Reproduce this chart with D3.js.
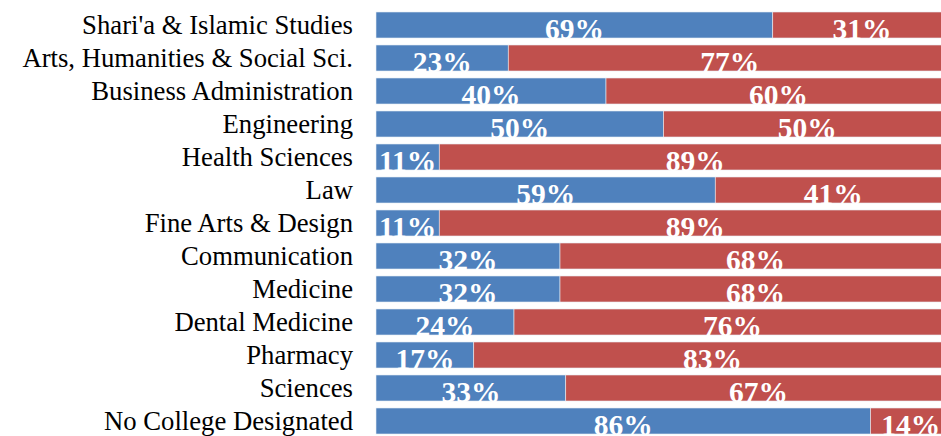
<!DOCTYPE html>
<html>
<head>
<meta charset="utf-8">
<script src="https://cdn.jsdelivr.net/npm/d3@7"></script>
<style>
  body { margin: 0; background: #fff; overflow: hidden; }
</style>
</head>
<body>
<div id="chart"></div>
<script>
// categories and shares (first series = blue, second = red)
var colleges = ["Shari'a & Islamic Studies", "Arts, Humanities & Social Sci.", "Business Administration",
    "Engineering", "Health Sciences", "Law", "Fine Arts & Design", "Communication", "Medicine",
    "Dental Medicine", "Pharmacy", "Sciences", "No College Designated"];
var seriesA = [69, 23, 40, 50, 11, 59, 11, 32, 32, 24, 17, 33, 86];
var seriesB = [31, 77, 60, 50, 89, 41, 89, 68, 68, 76, 83, 67, 14];

var width = 941, height = 436;

var svg = d3.select("#chart")
    .append("svg")
    .attr("width", width)
    .attr("height", height);

var rows = colleges.map(function (c, i) {
    return { college: c, a: seriesA[i], b: seriesB[i] };
});

var stack = d3.stack().keys(["a", "b"]);
var layers = stack(rows);

// x scale in percent, bars run past the right edge of the picture
var x = d3.scaleLinear()
    .domain([0, 100])
    .range([376, 951]);

var y = d3.scaleBand()
    .domain(colleges)
    .range([8.5, 437.5])
    .paddingInner(0.212)
    .paddingOuter(0.106);

var colors = { a: "#4F81BD", b: "#C0504D" };

var layer = svg.selectAll("g.layer")
    .data(layers)
    .enter()
    .append("g")
    .attr("class", "layer")
    .attr("fill", function (d) { return colors[d.key]; });

layer.selectAll("rect")
    .data(function (d) { return d; })
    .enter()
    .append("rect")
    .attr("x", function (d) { return x(d[0]); })
    .attr("y", function (d) { return y(d.data.college); })
    .attr("width", function (d) { return x(d[1]) - x(d[0]); })
    .attr("height", y.bandwidth())
    .style("stroke", "#e8eef6")
    .style("stroke-width", 0.6);

// value labels, sitting low in each bar
layer.selectAll("text")
    .data(function (d) { return d; })
    .enter()
    .append("text")
    .text(function (d) { return (d[1] - d[0]) + "%"; })
    .attr("x", function (d) { return (x(d[0]) + x(d[1])) / 2; })
    .attr("y", function (d) { return y(d.data.college) + y.bandwidth() + 0.5; })
    .attr("text-anchor", "middle")
    .attr("font-family", "'Liberation Serif', 'Times New Roman', serif")
    .attr("font-weight", "bold")
    .attr("font-size", "29.5px")
    .attr("fill", "white");

// category axis
var axis = svg.append("g")
    .attr("transform", "translate(376,0)")
    .call(d3.axisLeft(y).tickSize(0).tickPadding(23));
axis.select(".domain").remove();
axis.selectAll("text")
    .attr("font-family", "'Liberation Serif', 'Times New Roman', serif")
    .attr("font-size", "26.7px")
    .attr("fill", "black")
    .attr("dy", "0.34em");
</script>
</body>
</html>
